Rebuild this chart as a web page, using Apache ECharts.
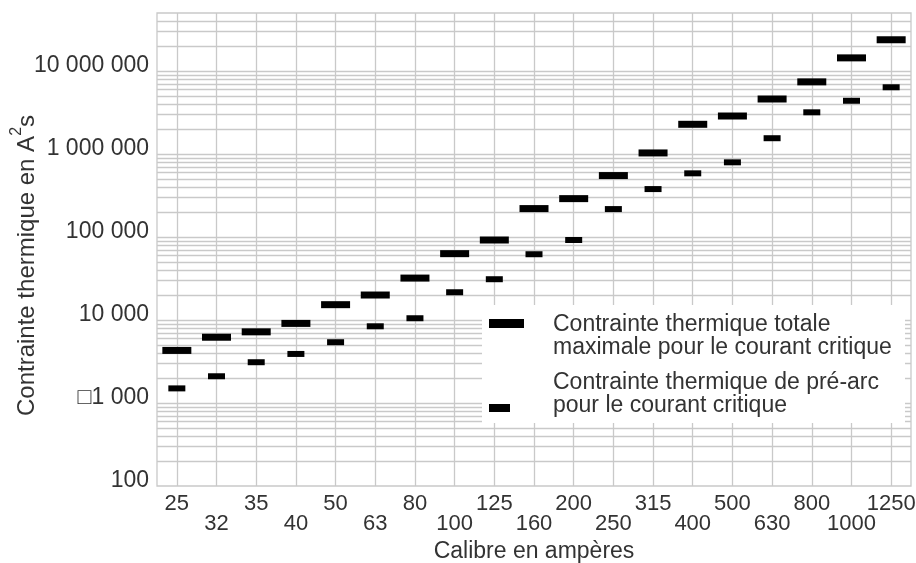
<!DOCTYPE html>
<html>
<head>
<meta charset="utf-8">
<script src="https://cdn.jsdelivr.net/npm/echarts/dist/echarts.min.js"></script>
<style>
html,body{margin:0;padding:0;background:#ffffff;}
#chart{width:916px;height:563px;}
</style>
</head>
<body>
<div id="chart"></div>
<script>
// ---- data ----
const categories = ['25','32','35','40','50','63','80','100','125','160','200','250','315','400','500','630','800','1000','1250'];
const totalI2t = [4300, 6200, 7200, 9100, 15300, 20000, 32000, 63000, 92000, 220000, 290000, 550000, 1030000, 2280000, 2870000, 4600000, 7400000, 14400000, 23800000];
const preArcI2t = [1500, 2100, 3100, 3900, 5400, 8400, 10500, 21600, 31000, 62000, 92000, 217000, 378000, 585000, 794000, 1550000, 3180000, 4380000, 6370000];
const yTickLabels = ['100', '\u25A11 000', '10 000', '100 000', '1 000 000', '10 000 000'];
const seriesNames = [
  'Contrainte thermique totale\nmaximale pour le courant critique',
  'Contrainte thermique de pré-arc\npour le courant critique'
];
const xTitle = 'Calibre en ampères';
const yTitle = '{a|Contrainte thermique en A}{sup|2}{a|s}';

// ---- axis structure ----
const yMin = 100, yMax = 50000000;
const FONT = '"Liberation Sans", Arial, Helvetica, sans-serif';
const TXT = '#333333';
const GRID = '#c9c9c9';

const hLines = [];
for (let e = 2; e <= 7; e++) {
  for (let k = 1; k <= 9; k++) {
    const v = k * Math.pow(10, e);
    if (v > yMin && v < yMax) hLines.push(v);
  }
}
const gridLineData = hLines.map(v => ({ yAxis: v })).concat(categories.map(c => ({ xAxis: c })));

const chart = echarts.init(document.getElementById('chart'), null, { renderer: 'canvas' });
chart.setOption({
  animation: false,
  backgroundColor: '#ffffff',
  textStyle: { fontFamily: FONT },
  grid: {
    left: 157, right: 5, top: 13, bottom: 77,
    outerBoundsMode: 'none', containLabel: false,
    show: true, borderColor: GRID, borderWidth: 1.3, backgroundColor: 'transparent'
  },
  xAxis: {
    type: 'category',
    data: categories,
    boundaryGap: true,
    axisLine: { show: false },
    axisTick: { show: false },
    splitLine: { show: false },
    axisLabel: {
      interval: 0,
      margin: 8,
      fontSize: 22,
      lineHeight: 20,
      color: TXT,
      fontFamily: FONT,
      formatter: (v, i) => (i % 2 === 1 ? '\n' + v : v)
    },
    name: xTitle,
    nameLocation: 'middle',
    nameGap: 54,
    nameMoveOverlap: false,
    nameTextStyle: { fontSize: 23, lineHeight: 23, color: TXT, fontFamily: FONT }
  },
  yAxis: {
    type: 'log',
    logBase: 10,
    min: yMin,
    max: yMax,
    axisLine: { show: false },
    axisTick: { show: false },
    splitLine: { show: false },
    axisLabel: {
      margin: 8,
      fontSize: 23,
      lineHeight: 10,
      verticalAlign: 'bottom',
      color: TXT,
      fontFamily: FONT,
      formatter: v => {
        const l = Math.log10(v);
        const e = Math.round(l);
        if (Math.abs(l - e) > 1e-6) return '';
        const s = yTickLabels[e - 2];
        return s === undefined ? '' : s;
      }
    },
    name: yTitle,
    nameLocation: 'middle',
    nameGap: 118,
    nameMoveOverlap: false,
    nameTextStyle: {
      fontSize: 24, color: TXT, fontFamily: FONT,
      padding: [0, 32, 0, 0],
      rich: {
        a: { fontSize: 24, lineHeight: 30, verticalAlign: 'bottom', color: TXT, fontFamily: FONT },
        sup: { fontSize: 16, lineHeight: 16, verticalAlign: 'top', color: TXT, fontFamily: FONT }
      }
    }
  },
  series: [
    {
      name: seriesNames[0],
      type: 'scatter',
      symbol: 'rect',
      symbolSize: [29, 7],
      itemStyle: { color: '#000000', opacity: 1 },
      z: 3,
      silent: true,
      data: categories.map((c, i) => [c, totalI2t[i]])
    },
    {
      name: seriesNames[1],
      type: 'scatter',
      symbol: 'rect',
      symbolSize: [17, 6],
      itemStyle: { color: '#000000', opacity: 1 },
      z: 3,
      silent: true,
      data: categories.map((c, i) => [c, preArcI2t[i]]),
      markLine: {
        silent: true,
        z: 1,
        symbol: ['none', 'none'],
        label: { show: false },
        emphasis: { disabled: true },
        lineStyle: { color: GRID, width: 1.3, type: 'solid' },
        data: gridLineData
      }
    }
  ],
  graphic: [
    { type: 'rect', z: 50, silent: true, shape: { x: 482, y: 305, width: 423, height: 118 }, style: { fill: '#ffffff' } },
    { type: 'rect', z: 51, silent: true, shape: { x: 489, y: 319, width: 35, height: 9 }, style: { fill: '#000000' } },
    { type: 'rect', z: 51, silent: true, shape: { x: 489, y: 404, width: 21, height: 8 }, style: { fill: '#000000' } },
    { type: 'text', z: 51, silent: true, x: 553, y: 313, style: { text: seriesNames[0], font: '23px ' + FONT, lineHeight: 23, fill: TXT, textVerticalAlign: 'top', verticalAlign: 'top' } },
    { type: 'text', z: 51, silent: true, x: 553, y: 371, style: { text: seriesNames[1], font: '23px ' + FONT, lineHeight: 23, fill: TXT, textVerticalAlign: 'top', verticalAlign: 'top' } }
  ]
});
</script>
</body>
</html>
